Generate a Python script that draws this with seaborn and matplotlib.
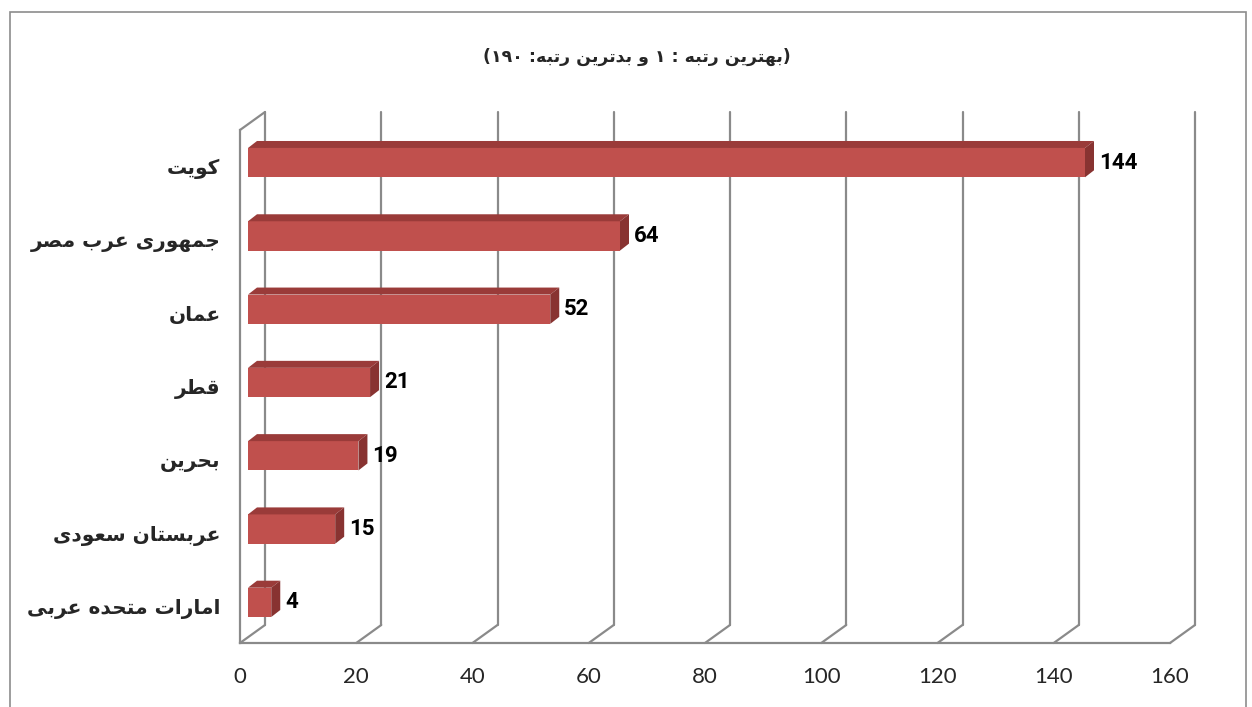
import re
import numpy as np
import seaborn as sns
import matplotlib
import matplotlib.pyplot as plt
from matplotlib.patches import Polygon, Rectangle
from matplotlib.transforms import ScaledTranslation

matplotlib.use("Agg")

# data
countries = ["کویت", "جمهوری عرب مصر", "عمان", "قطر", "بحرین", "عربستان سعودی", "امارات متحده عربی"]
ranks = [144, 64, 52, 21, 19, 15, 4]
xticks = [0, 20, 40, 60, 80, 100, 120, 140, 160]
title = "(بهترین رتبه : ۱ و بدترین رتبه: ۱۹۰)"

# arabic presentation forms: isolated, final, initial, medial
FORMS = {
    "ا": ("\uFE8D", "\uFE8E", None, None),
    "ب": ("\uFE8F", "\uFE90", "\uFE91", "\uFE92"),
    "ت": ("\uFE95", "\uFE96", "\uFE97", "\uFE98"),
    "ج": ("\uFE9D", "\uFE9E", "\uFE9F", "\uFEA0"),
    "ح": ("\uFEA1", "\uFEA2", "\uFEA3", "\uFEA4"),
    "د": ("\uFEA9", "\uFEAA", None, None),
    "ر": ("\uFEAD", "\uFEAE", None, None),
    "س": ("\uFEB1", "\uFEB2", "\uFEB3", "\uFEB4"),
    "ص": ("\uFEB9", "\uFEBA", "\uFEBB", "\uFEBC"),
    "ط": ("\uFEC1", "\uFEC2", "\uFEC3", "\uFEC4"),
    "ع": ("\uFEC9", "\uFECA", "\uFECB", "\uFECC"),
    "ق": ("\uFED5", "\uFED6", "\uFED7", "\uFED8"),
    "م": ("\uFEE1", "\uFEE2", "\uFEE3", "\uFEE4"),
    "ن": ("\uFEE5", "\uFEE6", "\uFEE7", "\uFEE8"),
    "ه": ("\uFEE9", "\uFEEA", "\uFEEB", "\uFEEC"),
    "و": ("\uFEED", "\uFEEE", None, None),
    "ک": ("\uFB8E", "\uFB8F", "\uFB90", "\uFB91"),
    "ی": ("\uFBFC", "\uFBFD", "\uFBFE", "\uFBFF"),
}


def rtl(text):
    out = []
    for i, ch in enumerate(text):
        if ch not in FORMS:
            out.append(ch)
            continue
        prev = text[i - 1] if i > 0 else ""
        nxt = text[i + 1] if i + 1 < len(text) else ""
        jp = prev in FORMS and FORMS[prev][2] is not None
        jn = nxt in FORMS and FORMS[ch][2] is not None
        iso, fin, ini, med = FORMS[ch]
        if jp and jn:
            out.append(med)
        elif jp:
            out.append(fin)
        elif jn:
            out.append(ini)
        else:
            out.append(iso)
    tokens = re.findall(r"[0-9\u06F0-\u06F9]+|.", "".join(out))
    mirror = {"(": ")", ")": "("}
    return "".join(mirror.get(t, t) for t in reversed(tokens))


sns.set_style("white")
plt.rcParams["font.family"] = ["Lato", "DejaVu Sans"]

W, H = 1252, 707
fig = plt.figure(figsize=(W / 100, H / 100), dpi=100)
fig.patches.append(Rectangle((10 / W, -0.01), 1236 / W, 1 - 12 / H + 0.01, transform=fig.transFigure,
                             fill=False, edgecolor="#8c8c8c", linewidth=1.2))
ax = fig.add_axes([240 / W, 64 / H, 930 / W, 513 / H])

labels = [rtl(c) for c in countries]
sns.barplot(x=ranks, y=labels, orient="h", color="#C0504D", saturation=1, width=0.4, ax=ax)
ax.set_xlim(0, 160)
ax.set_ylim(6.5, -0.5)
ax.set_xlabel("")
ax.set_ylabel("")

grey = "#8a8a8a"
back = (25, 18)
bar_off = (8, 4)
bar_depth = (9, 7)


def px(dx, dy):
    return ScaledTranslation(dx / 100, dy / 100, fig.dpi_scale_trans)


def shifted(x, y, d):
    p = ax.transData.transform((x, y)) + np.array(d)
    return ax.transData.inverted().transform(p)


# back wall gridlines and floor diagonals
for v in xticks:
    ax.plot([v, v], [-0.5, 6.5], transform=ax.transData + px(*back), color=grey, lw=1.6,
             clip_on=False, zorder=1)
    b = shifted(v, 6.5, back)
    ax.plot([v, b[0]], [6.5, b[1]], color=grey, lw=1.6, clip_on=False, zorder=1)
b = shifted(0, -0.5, back)
ax.plot([0, b[0]], [-0.5, b[1]], color=grey, lw=1.6, clip_on=False, zorder=1)

# bars: front faces shifted into depth, plus top and side faces
for p in ax.patches:
    p.set_transform(ax.transData + px(*bar_off))
    p.set_zorder(3)
    p.set_clip_on(False)
    p.set_edgecolor("none")

for i, v in enumerate(ranks):
    y0, y1 = i - 0.2, i + 0.2
    f = lambda x, y: shifted(x, y, bar_off)
    g = lambda x, y: shifted(x, y, (bar_off[0] + bar_depth[0], bar_off[1] + bar_depth[1]))
    top = [f(0, y0), f(v, y0), g(v, y0), g(0, y0)]
    side = [f(v, y0), f(v, y1), g(v, y1), g(v, y0)]
    ax.add_patch(Polygon(top, closed=True, facecolor="#9A3B39", edgecolor="none", zorder=3, clip_on=False))
    ax.add_patch(Polygon(side, closed=True, facecolor="#883331", edgecolor="none", zorder=3, clip_on=False))
    ax.text(v, i, str(v), transform=ax.transData + px(bar_off[0] + bar_depth[0] + 5, bar_off[1]),
            ha="left", va="center", fontsize=16, fontweight="bold", color="black", zorder=4,
            family=["Roboto", "DejaVu Sans"])

# axes styling
sns.despine(ax=ax, top=True, right=True)
for s in ["left", "bottom"]:
    ax.spines[s].set_color(grey)
    ax.spines[s].set_linewidth(1.6)
    ax.spines[s].set_zorder(1)
ax.set_xticks(xticks)
ax.set_xticklabels([str(t) for t in xticks])
ax.tick_params(axis="x", direction="out", length=7, width=1.6, color=grey, labelsize=16, pad=10)
ax.tick_params(axis="y", length=0, pad=14)
for t in ax.get_yticklabels():
    t.set_fontfamily("DejaVu Sans")
    t.set_fontweight("bold")
    t.set_fontsize(14.5)

fig.text(637 / W, 1 - 57 / H, rtl(title), ha="center", va="center", fontsize=12.5,
         fontweight="bold", family="DejaVu Sans")

fig.savefig("out.png", dpi=100)
